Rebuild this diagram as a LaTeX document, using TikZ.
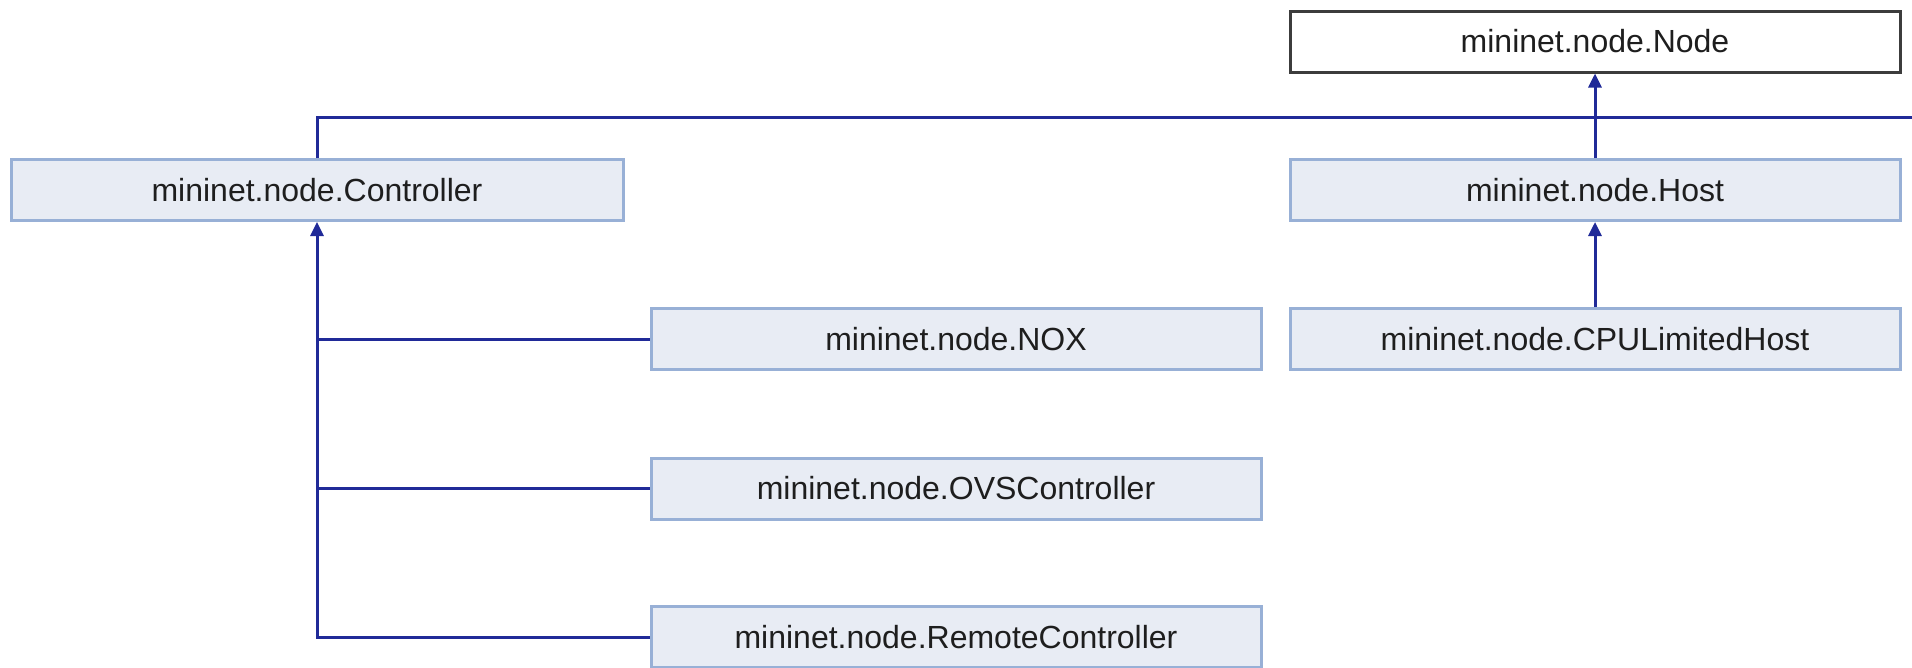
\documentclass[tikz,border=0pt]{standalone}
\usepackage{fontspec}
\setmainfont{Liberation Sans}
\usetikzlibrary{arrows.meta}

\definecolor{edgeblue}{RGB}{32,42,152}
\definecolor{boxfill}{RGB}{232,236,244}
\definecolor{boxline}{RGB}{152,176,214}
\definecolor{rootline}{RGB}{60,60,60}
\definecolor{labeltext}{RGB}{30,30,30}

\begin{document}
\begin{tikzpicture}[x=1pt,y=-1pt,
  cls/.style={draw=boxline, fill=boxfill, line width=3pt,
    minimum height=61pt, inner sep=0pt, text=labeltext,
    font=\fontsize{32}{40}\selectfont},
  root/.style={cls, draw=rootline, fill=white},
  inh/.style={draw=edgeblue, line width=3pt,
    -{Triangle[length=14pt,width=13pt]}},
  link/.style={draw=edgeblue, line width=3pt}]
\useasboundingbox (0,0) rectangle (1912,667);

% class boxes
\node[root, minimum width=610pt] (node)   at (1595,41.5) {mininet.node.Node};
\node[cls,  minimum width=610pt] (host)   at (1595,190)  {mininet.node.Host};
\node[cls,  minimum width=610pt] (cpu)    at (1595,339)  {mininet.node.CPULimitedHost};
\node[cls,  minimum width=612pt] (ctrl)   at (317,190)   {mininet.node.Controller};
\node[cls,  minimum width=610pt] (nox)    at (956,339)   {mininet.node.NOX};
\node[cls,  minimum width=610pt] (ovs)    at (956,488.5) {mininet.node.OVSController};
\node[cls,  minimum width=610pt] (remote) at (956,637)   {mininet.node.RemoteController};

% host hierarchy
\draw[inh] (host.north) -- (node.south);
\draw[inh] (cpu.north) -- (host.south);

% controller leaves outward to the right
\coordinate (offright) at (1920,117);
\draw[link] (ctrl.north) |- (offright);

% controller subclasses
\draw[link] (nox.west) -- (ctrl.south |- nox.west);
\draw[link] (ovs.west) -- (ctrl.south |- ovs.west);
\draw[inh]  (remote.west) -| (ctrl.south);
\end{tikzpicture}
\end{document}
